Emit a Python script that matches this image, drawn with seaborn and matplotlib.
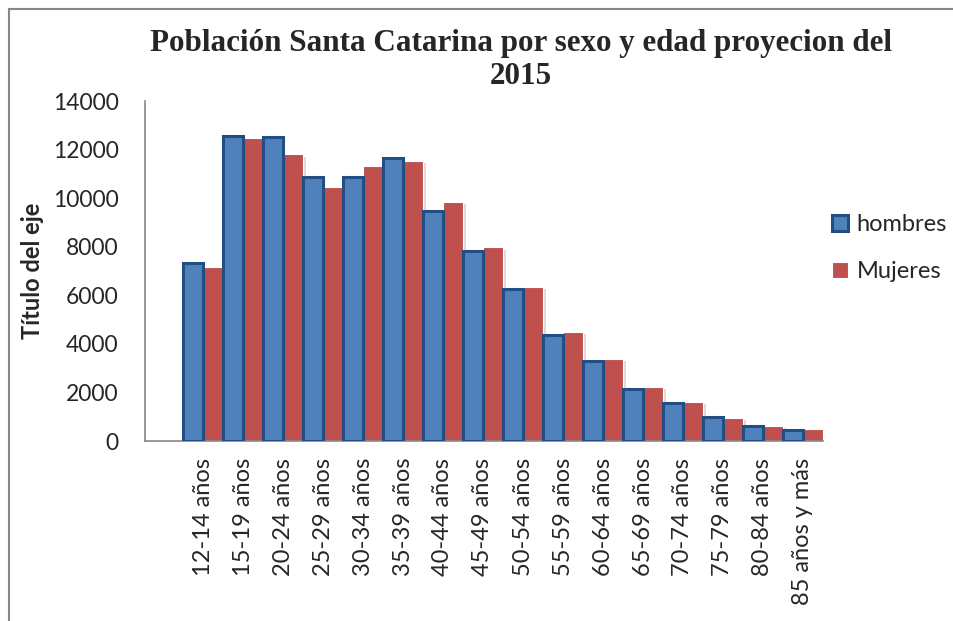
import matplotlib
matplotlib.use("Agg")
import matplotlib.pyplot as plt
import matplotlib.patheffects as pe
from matplotlib.lines import Line2D
from matplotlib.patches import Patch
import pandas as pd
import seaborn as sns

# age groups and population
edades = ["12-14 años", "15-19 años", "20-24 años", "25-29 años", "30-34 años",
          "35-39 años", "40-44 años", "45-49 años", "50-54 años", "55-59 años",
          "60-64 años", "65-69 años", "70-74 años", "75-79 años", "80-84 años",
          "85 años y más"]
hombres = [7350, 12550, 12500, 10850, 10850, 11650, 9480, 7820, 6250, 4350,
           3300, 2150, 1580, 980, 610, 440]
mujeres = [7170, 12460, 11800, 10470, 11320, 11540, 9850, 7970, 6350, 4490,
           3380, 2240, 1590, 930, 620, 480]
series = ["hombres", "Mujeres"]

df = pd.DataFrame({
    "edad": edades * 2,
    "poblacion": hombres + mujeres,
    "sexo": [series[0]] * len(edades) + [series[1]] * len(edades),
})

sns.set_theme(style="white")
plt.rcParams["font.family"] = ["Lato", "DejaVu Sans"]

AZUL = "#4F81BD"
AZUL_OSC = "#234E83"
ROJO = "#C0504D"
GRIS = "#888888"

fig = plt.figure(figsize=(9.54, 6.21), dpi=100)
ax = fig.add_axes([145 / 954, 1 - 441 / 621, (823 - 145) / 954, (441 - 101) / 621])

sns.barplot(data=df, x="edad", y="poblacion", hue="sexo", order=edades,
            hue_order=series, palette=[AZUL, ROJO], width=1.0, gap=0,
            saturation=1, legend=False, ax=ax)

shadow = [pe.SimplePatchShadow(offset=(2, -1.5), shadow_rgbFace="#999999", alpha=0.35),
          pe.Normal()]
for bar in ax.containers[0]:
    bar.set_edgecolor(AZUL_OSC)
    bar.set_linewidth(2.2)
    bar.set_zorder(3)
for bar in ax.containers[1]:
    bar.set_edgecolor("white")
    bar.set_linewidth(0.8)
    bar.set_zorder(2)
    bar.set_path_effects(shadow)

ax.set_xlim(-1.45, 15.5)
ax.set_ylim(0, 14000)
ax.set_yticks(range(0, 14001, 2000))
ax.tick_params(axis="y", labelsize=16.5, pad=19, length=0)
ax.tick_params(axis="x", labelsize=17, pad=12, length=0, rotation=90)
for lab in ax.get_xticklabels():
    lab.set_verticalalignment("top")

ax.set_xlabel("")
ax.set_ylabel("Título del eje", fontsize=17, fontweight="bold")
ax.yaxis.label.set_verticalalignment("center")
ax.yaxis.set_label_coords((32 - 145) / 678, 0.5)

sns.despine(ax=ax)
for s in ["left", "bottom"]:
    ax.spines[s].set_color(GRIS)
    ax.spines[s].set_linewidth(1.2)

fig.text(0.546, 1 - 60 / 621, "Población Santa Catarina por sexo y edad proyecion del\n2015",
         ha="center", va="center", fontsize=22.4, fontweight="bold",
         family="Liberation Serif", linespacing=1.2)

handles = [Patch(facecolor=AZUL, edgecolor=AZUL_OSC, linewidth=2.2),
           Patch(facecolor=ROJO, edgecolor="white", linewidth=0.8)]
fig.legend(handles, series, loc="upper left", bbox_to_anchor=(0.862, 1 - 205 / 621),
           frameon=False, fontsize=17, handlelength=0.7, handleheight=0.7,
           handletextpad=0.35, labelspacing=1.1, borderaxespad=0)

# outer chart frame (top and left edges visible)
fig.add_artist(Line2D([9 / 954, 9 / 954], [0, 1 - 9 / 621], color=GRIS, lw=1.5,
                      transform=fig.transFigure))
fig.add_artist(Line2D([9 / 954, 1], [1 - 9 / 621, 1 - 9 / 621], color=GRIS, lw=1.5,
                      transform=fig.transFigure))

fig.savefig("out.png", dpi=100)
